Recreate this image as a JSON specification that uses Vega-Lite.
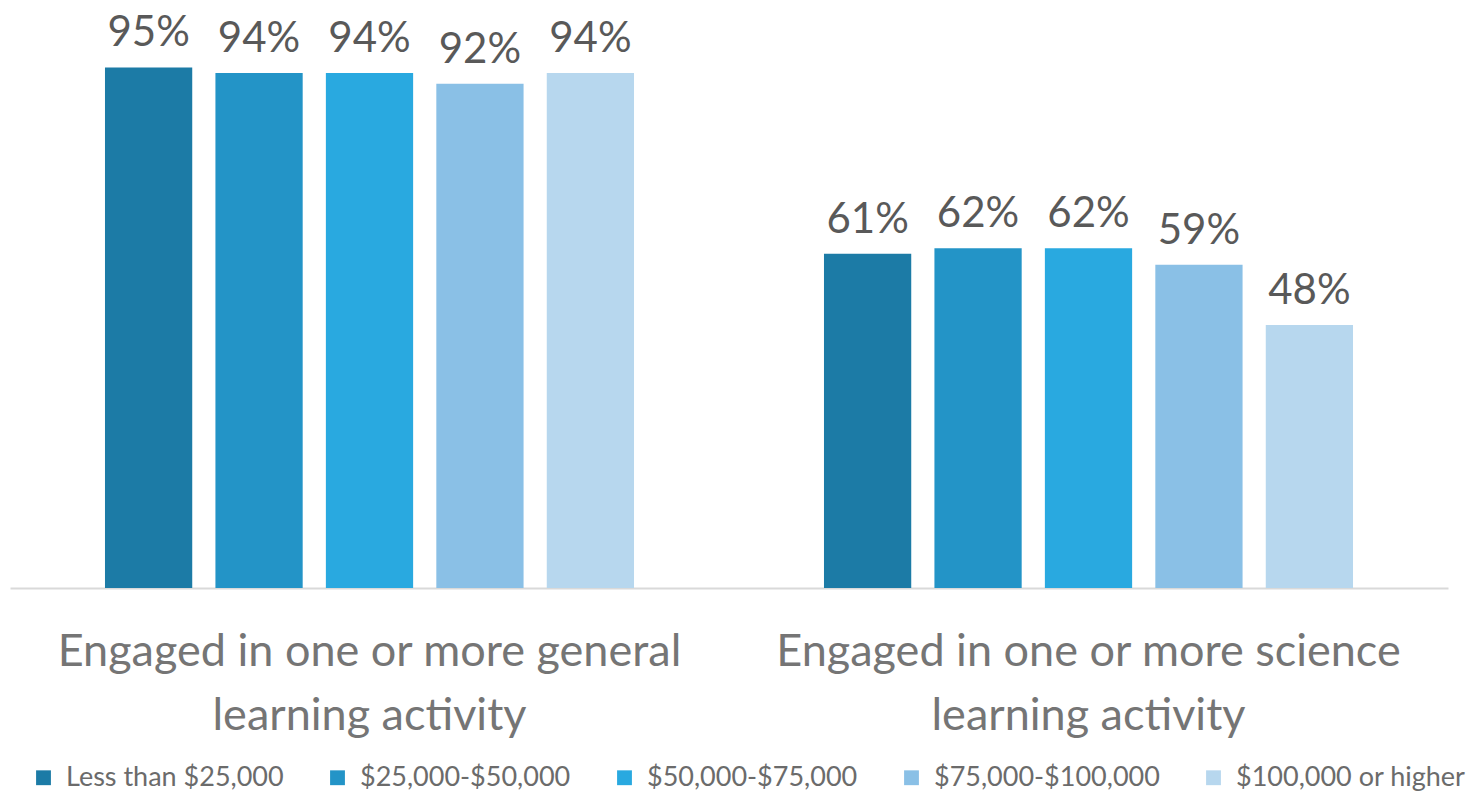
{
  "$schema": "https://vega.github.io/schema/vega-lite/v6.json",
  "autosize": "none",
  "width": 1438,
  "height": 548,
  "padding": {"left": 10, "top": 40, "right": 31, "bottom": 204},
  "background": "white",
  "config": {"view": {"stroke": null}, "font": "Lato"},
  "data": {
    "values": [
      {"activity": "Engaged in one or more general learning activity", "income": "Less than $25,000", "pct": 95, "label": "95%"},
      {"activity": "Engaged in one or more general learning activity", "income": "$25,000-$50,000", "pct": 94, "label": "94%"},
      {"activity": "Engaged in one or more general learning activity", "income": "$50,000-$75,000", "pct": 94, "label": "94%"},
      {"activity": "Engaged in one or more general learning activity", "income": "$75,000-$100,000", "pct": 92, "label": "92%"},
      {"activity": "Engaged in one or more general learning activity", "income": "$100,000 or higher", "pct": 94, "label": "94%"},
      {"activity": "Engaged in one or more science learning activity", "income": "Less than $25,000", "pct": 61, "label": "61%"},
      {"activity": "Engaged in one or more science learning activity", "income": "$25,000-$50,000", "pct": 62, "label": "62%"},
      {"activity": "Engaged in one or more science learning activity", "income": "$50,000-$75,000", "pct": 62, "label": "62%"},
      {"activity": "Engaged in one or more science learning activity", "income": "$75,000-$100,000", "pct": 59, "label": "59%"},
      {"activity": "Engaged in one or more science learning activity", "income": "$100,000 or higher", "pct": 48, "label": "48%"}
    ]
  },
  "encoding": {
    "x": {
      "field": "activity", "type": "nominal", "title": null,
      "scale": {"paddingInner": 0, "paddingOuter": 0},
      "axis": {
        "labelAngle": 0, "ticks": false, "domainColor": "#d9d9d9", "domainWidth": 2,
        "labelFont": "Lato", "labelFontSize": 45, "labelColor": "#757575",
        "labelPadding": 41, "labelLineHeight": 64, "labelLimit": 0,
        "labelExpr": "[replace(datum.label, ' learning activity', ''), 'learning activity']"
      }
    },
    "xOffset": {
      "field": "income", "type": "nominal",
      "sort": ["Less than $25,000", "$25,000-$50,000", "$50,000-$75,000", "$75,000-$100,000", "$100,000 or higher"],
      "scale": {"paddingInner": 0.21, "paddingOuter": 0.86}
    },
    "y": {
      "field": "pct", "type": "quantitative", "title": null,
      "scale": {"domain": [0, 100]},
      "axis": null
    }
  },
  "layer": [
    {
      "mark": {"type": "bar"},
      "encoding": {
        "color": {
          "field": "income", "type": "nominal", "title": null,
          "sort": ["Less than $25,000", "$25,000-$50,000", "$50,000-$75,000", "$75,000-$100,000", "$100,000 or higher"],
          "scale": {
            "domain": ["Less than $25,000", "$25,000-$50,000", "$50,000-$75,000", "$75,000-$100,000", "$100,000 or higher"],
            "range": ["#1c7ba6", "#2394c7", "#29a9e0", "#8ac0e6", "#b7d7ee"]
          },
          "legend": {
            "orient": "none", "legendX": 20, "legendY": 724,
            "direction": "horizontal", "columns": 5,
            "symbolType": "square", "symbolSize": 220, "symbolStrokeWidth": 0,
            "labelFont": "Lato", "labelFontSize": 27, "labelColor": "#6b6b6b",
            "labelOffset": 9, "columnPadding": 40, "labelLimit": 0
          }
        }
      }
    },
    {
      "mark": {"type": "text", "baseline": "alphabetic", "dy": -21, "font": "Lato", "fontSize": 42, "color": "#595959"},
      "encoding": {
        "text": {"field": "label", "type": "nominal"},
        "detail": {"field": "income"}
      }
    }
  ]
}
